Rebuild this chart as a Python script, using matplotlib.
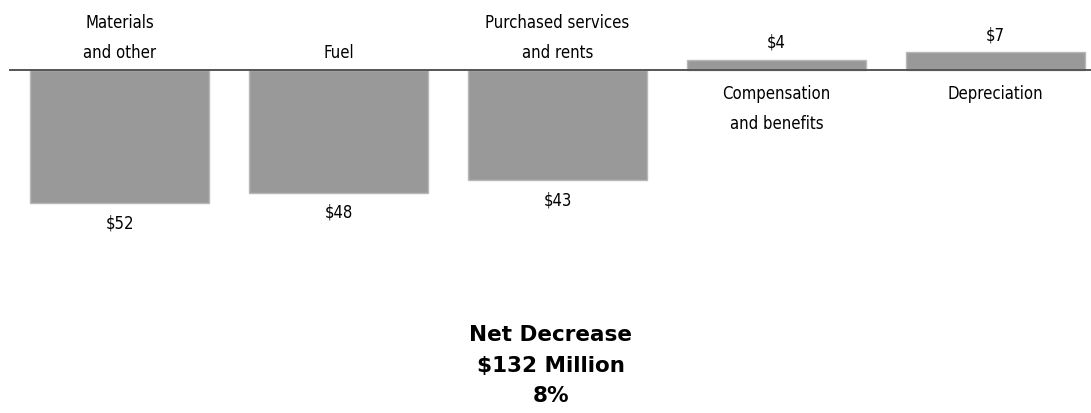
import matplotlib.pyplot as plt
import numpy as np

# Change in operating expenses by category, $ millions
categories = ['Materials\nand other', 'Fuel', 'Purchased services\nand rents',
              'Compensation\nand benefits', 'Depreciation']
changes = [-52, -48, -43, 4, 7]
value_labels = ['$52', '$48', '$43', '$4', '$7']
total_lines = 'Net Decrease\n$132 Million\n8%'

label_kw = dict(fontsize=12, family='DejaVu Sans', fontstretch='condensed')

fig = plt.figure(figsize=(10.91, 4.13), dpi=100)
ax = fig.add_axes([0, 0, 1, 1])

x = np.arange(len(changes))
ax.bar(x, changes, width=0.817, color='#999999', edgecolor='#b8b8b8', linewidth=1)
ax.axhline(0, xmin=0.009, xmax=1, color='#555555', linewidth=1.4)

for xi, val, cat, vl in zip(x, changes, categories, value_labels):
    if val < 0:
        ax.text(xi, 3.2, cat, ha='center', va='bottom', linespacing=1.85, **label_kw)
        ax.text(xi, val - 4.3, vl, ha='center', va='top', **label_kw)
    else:
        ax.text(xi, val + 3.0, vl, ha='center', va='bottom', **label_kw)
        ax.text(xi, -5.8, cat, ha='center', va='top', linespacing=1.85, **label_kw)

ax.text(1.97, -99.5, total_lines, ha='center', va='top', fontsize=15.5,
        fontweight='bold', family='DejaVu Sans', linespacing=1.68)

ax.set_xlim(-0.546, 4.436)
ax.set_ylim(-134, 27.3)
ax.axis('off')

plt.savefig('out.png', dpi=100)
